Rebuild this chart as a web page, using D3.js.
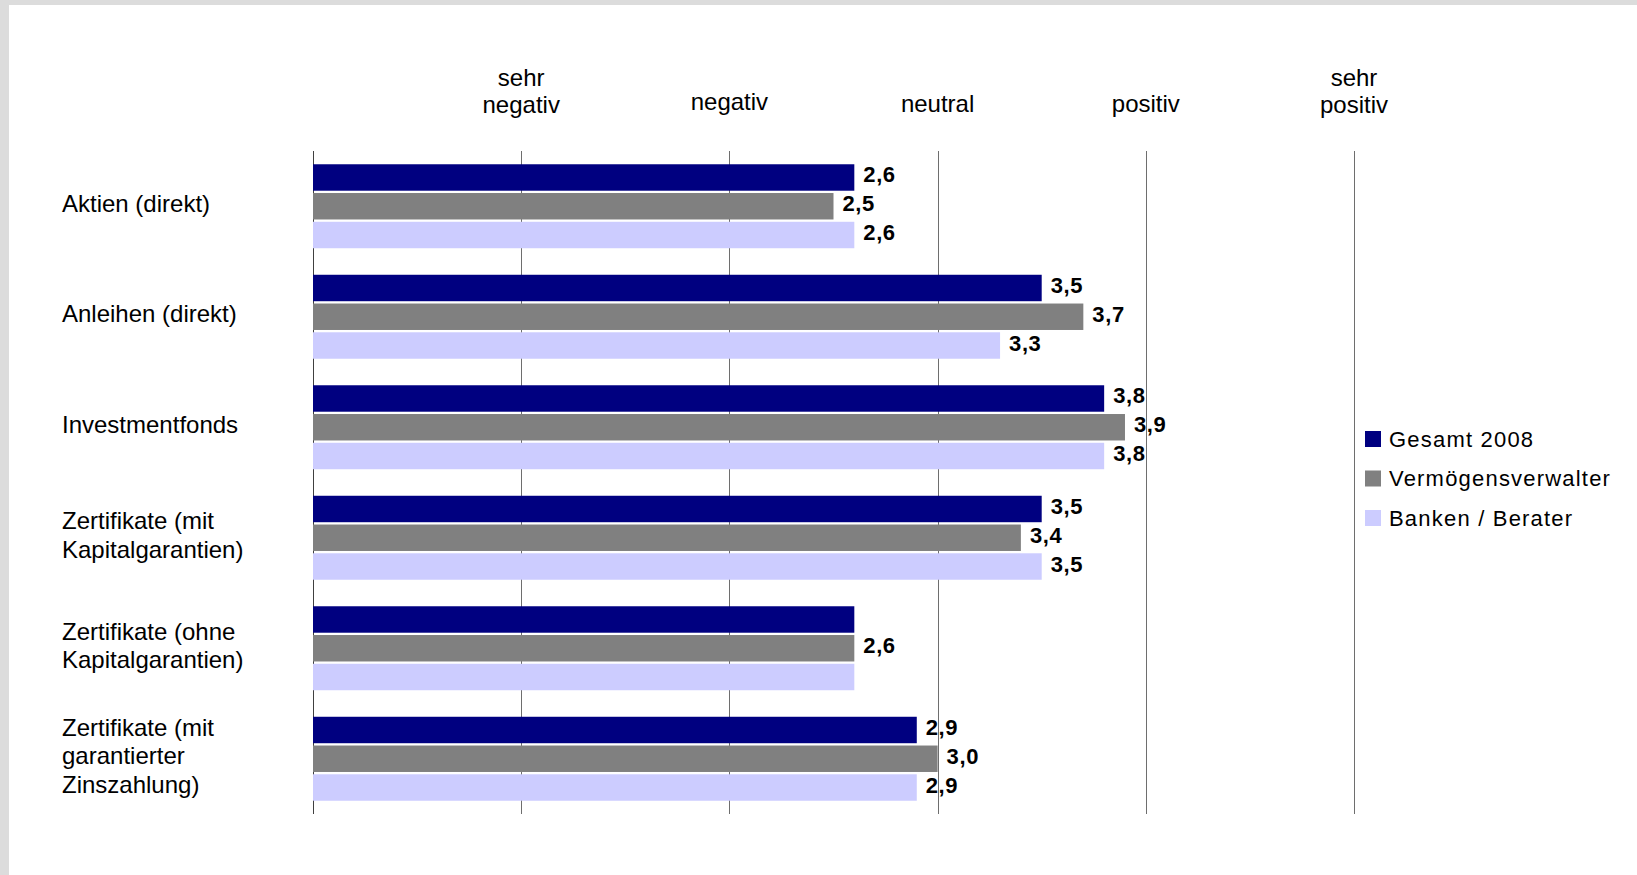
<!DOCTYPE html>
<html lang="de">
<head>
<meta charset="utf-8">
<title>Einschätzung der Anlageklassen</title>
<script src="https://cdn.jsdelivr.net/npm/d3@7/dist/d3.min.js"></script>
<style>
  html, body { margin: 0; padding: 0; background: #dcdcdc; }
  svg { display: block; font-family: "Liberation Sans", Arial, sans-serif; }
</style>
</head>
<body>
<svg id="chart" width="1637" height="875"></svg>
<script>
// Anlageklassen (each entry is a list of wrapped label lines)
const categories = [
  ["Aktien (direkt)"],
  ["Anleihen (direkt)"],
  ["Investmentfonds"],
  ["Zertifikate (mit", "Kapitalgarantien)"],
  ["Zertifikate (ohne", "Kapitalgarantien)"],
  ["Zertifikate (mit", "garantierter", "Zinszahlung)"]
];

const seriesNames = ["Gesamt 2008", "Vermögensverwalter", "Banken / Berater"];
const seriesColors = ["#000080", "#808080", "#ccccff"];

// Bewertung 1 = sehr negativ ... 5 = sehr positiv
const gesamt2008 = [2.6, 3.5, 3.8, 3.5, 2.6, 2.9];
const vermoegensverwalter = [2.5, 3.7, 3.9, 3.4, 2.6, 3.0];
const bankenBerater = [2.6, 3.3, 3.8, 3.5, 2.6, 2.9];

// which bars carry a value label
const showGesamt = [true, true, true, true, false, true];
const showVerm = [true, true, true, true, true, true];
const showBanken = [true, true, true, true, false, true];

const tickValues = [0, 1, 2, 3, 4, 5];
const tickLabels = [[], ["sehr", "negativ"], ["negativ"], ["neutral"], ["positiv"], ["sehr", "positiv"]];

const seriesValues = [gesamt2008, vermoegensverwalter, bankenBerater];
const seriesShow = [showGesamt, showVerm, showBanken];

const svg = d3.select("#chart");
const W = 1637, H = 875;

// white panel inside the grey frame
svg.append("rect").attr("x", 9).attr("y", 5).attr("width", W - 9).attr("height", H - 5)
  .attr("fill", "#ffffff");

const plot = { left: 313, right: 1354, top: 151, bottom: 814 };

const x = d3.scaleLinear().domain([0, 5]).range([plot.left, plot.right]);
const y = d3.scaleBand().domain(d3.range(categories.length))
  .range([plot.top, plot.bottom]).paddingInner(0.24).paddingOuter(0.12);
const ySub = d3.scaleBand().domain(d3.range(seriesNames.length))
  .range([0, y.bandwidth()]).paddingInner(0.08);

// vertical grid lines
const grid = svg.append("g").attr("transform", `translate(0,${plot.bottom})`)
  .call(d3.axisBottom(x).tickValues(tickValues).tickSize(-(plot.bottom - plot.top)).tickFormat(""));
grid.select(".domain").remove();
grid.selectAll(".tick line")
  .attr("stroke", (d) => d === 0 ? "#404040" : "#6e6e6e")
  .attr("stroke-width", 1)
  .attr("shape-rendering", "crispEdges");

// scale captions above the grid
const caps = svg.append("g").attr("font-size", 24).attr("fill", "#000");
tickValues.forEach((v, i) => {
  const lines = tickLabels[i];
  if (!lines.length) return;
  const t = caps.append("text").attr("text-anchor", "middle")
    .attr("transform", `translate(${x(v)},0)`);
  const base = lines.length === 2 ? 86 : (v === 2 ? 110 : 112);
  lines.forEach((ln, j) => {
    t.append("tspan").attr("x", 0).attr("y", base + j * 27).text(ln);
  });
});

// bars
const bars = svg.append("g");
seriesValues.forEach((vals, s) => {
  bars.selectAll(null).data(vals).join("rect")
    .attr("x", x(0))
    .attr("y", (d, i) => y(i) + ySub(s))
    .attr("width", (d) => x(d) - x(0))
    .attr("height", ySub.bandwidth())
    .attr("fill", seriesColors[s]);
});

// value labels
const fmt = (v) => d3.format(".1f")(v).replace(".", ",");
const labels = svg.append("g").attr("font-size", 22).attr("font-weight", "bold")
  .attr("letter-spacing", 0.6).attr("fill", "#000");
seriesValues.forEach((vals, s) => {
  vals.forEach((v, i) => {
    if (!seriesShow[s][i]) return;
    labels.append("text")
      .attr("x", x(v) + 9)
      .attr("y", y(i) + ySub(s) + ySub.bandwidth() / 2 + 5)
      .text(fmt(v));
  });
});

// category labels
const cat = svg.append("g").attr("font-size", 24).attr("fill", "#000");
categories.forEach((lines, i) => {
  const mid = y(i) + y.bandwidth() / 2 - 3;
  const t = cat.append("text");
  lines.forEach((ln, j) => {
    t.append("tspan").attr("x", 62)
      .attr("y", mid + (j - (lines.length - 1) / 2) * 28.5 + 8.5)
      .text(ln);
  });
});

// legend
const legend = svg.append("g").attr("transform", "translate(1365,439)");
seriesNames.forEach((name, s) => {
  const g = legend.append("g").attr("transform", `translate(0,${s * 39.5})`);
  g.append("rect").attr("x", 0).attr("y", -8).attr("width", 16).attr("height", 16)
    .attr("fill", seriesColors[s]);
  g.append("text").attr("x", 24).attr("y", 7.5).attr("font-size", 22)
    .attr("letter-spacing", 1.2).attr("fill", "#000").text(name);
});
</script>
</body>
</html>
